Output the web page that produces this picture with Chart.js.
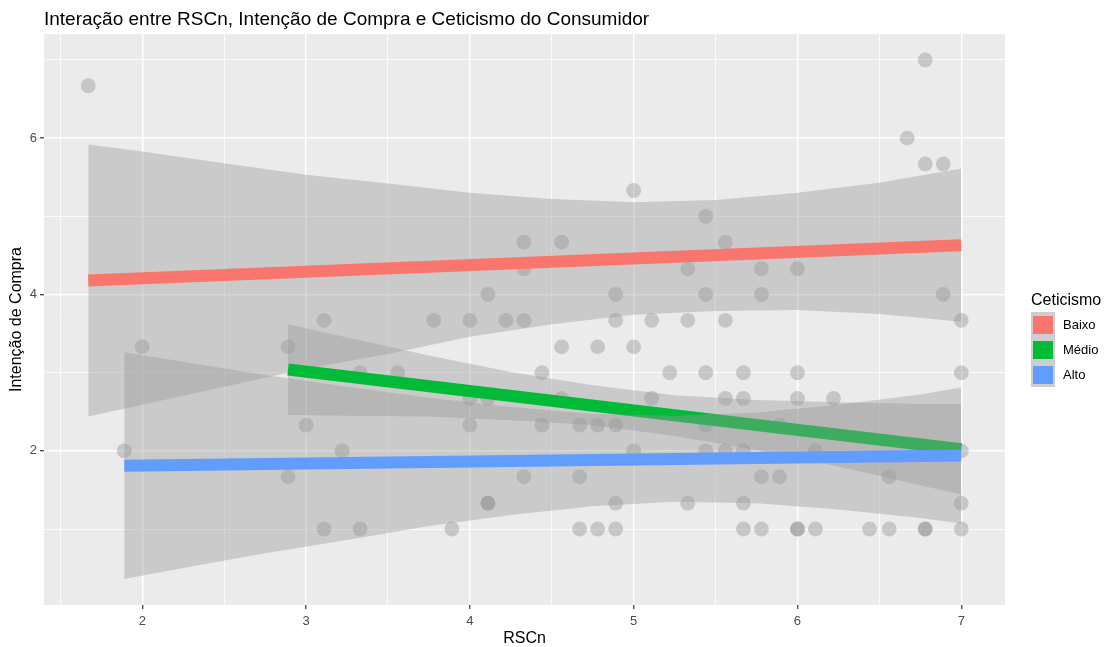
<!DOCTYPE html>
<html>
<head>
<meta charset="utf-8">
<script src="https://cdn.jsdelivr.net/npm/chart.js@4"></script>
<style>
    body { margin: 0; background: #fff; }
    #chart { display: block; }
</style>
</head>
<body>
<canvas id="chart" width="1107" height="647"></canvas>
<script>
const titleText = 'Interação entre RSCn, Intenção de Compra e Ceticismo do Consumidor';
const xTitle = 'RSCn';
const yTitle = 'Intenção de Compra';
const legendTitle = 'Ceticismo';
const groupNames = ['Baixo', 'Médio', 'Alto'];
const groupColors = ['#F8766D', '#00BA38', '#619CFF'];

const xMajor = [2, 3, 4, 5, 6, 7];
const xMinor = [1.5, 2.5, 3.5, 4.5, 5.5, 6.5];
const yMajor = [2, 4, 6];
const yMinor = [1, 3, 5, 7];

// observações (RSCn, Intenção de Compra)
const rscn = [1.67, 1.89, 2, 2.89, 2.89, 3, 3.11, 3.11, 3.22, 3.33, 3.33, 3.56, 3.78, 3.89,
    4, 4, 4, 4.11, 4.11, 4.11, 4.11, 4.22, 4.33, 4.33, 4.33, 4.33, 4.44, 4.44, 4.56, 4.56, 4.56,
    4.67, 4.67, 4.67, 4.78, 4.78, 4.78, 4.89, 4.89, 4.89, 4.89, 4.89, 5, 5, 5, 5.11, 5.11, 5.22,
    5.33, 5.33, 5.33, 5.44, 5.44, 5.44, 5.44, 5.44, 5.56, 5.56, 5.56, 5.56, 5.67, 5.67, 5.67,
    5.67, 5.67, 5.78, 5.78, 5.78, 5.78, 5.89, 5.89, 6, 6, 6, 6, 6, 6.11, 6.11, 6.22, 6.44, 6.56,
    6.56, 6.67, 6.78, 6.78, 6.78, 6.78, 6.89, 6.89, 7, 7, 7, 7, 7];
const intencao = [6.67, 2, 3.33, 3.33, 1.67, 2.33, 3.67, 1, 2, 3, 1, 3, 3.67, 1,
    3.67, 2.67, 2.33, 4, 2.67, 1.33, 1.33, 3.67, 4.67, 4.33, 3.67, 1.67, 3, 2.33, 4.67, 3.33, 2.67,
    2.33, 1.67, 1, 3.33, 2.33, 1, 4, 3.67, 2.33, 1.33, 1, 5.33, 3.33, 2, 3.67, 2.67, 3,
    4.33, 3.67, 1.33, 5, 4, 3, 2.33, 2, 4.67, 3.67, 2.67, 2, 3, 2.67, 2,
    1.33, 1, 4.33, 4, 1.67, 1, 2.33, 1.67, 4.33, 3, 2.67, 1, 1, 2, 1, 2.67, 1, 1.67,
    1, 6, 7, 5.67, 1, 1, 5.67, 4, 3.67, 3, 2, 1.33, 1];

// retas ajustadas por grupo
const baixoLineX = [1.67, 7];
const baixoLineY = [4.18, 4.63];
const medioLineX = [2.89, 7];
const medioLineY = [3.04, 2.02];
const altoLineX = [1.89, 7];
const altoLineY = [1.81, 1.94];

// intervalos de confiança
const baixoBandX = [1.67, 2, 2.5, 3, 3.5, 4, 4.5, 5, 5.5, 6, 6.5, 7];
const baixoUpper = [5.92, 5.83, 5.68, 5.53, 5.42, 5.30, 5.22, 5.18, 5.21, 5.30, 5.43, 5.61];
const baixoLower = [2.44, 2.59, 2.82, 3.05, 3.24, 3.46, 3.62, 3.74, 3.79, 3.80, 3.75, 3.65];

const medioBandX = [2.89, 3.25, 3.75, 4.25, 4.75, 5.25, 5.75, 6.25, 6.75, 7];
const medioUpper = [3.62, 3.45, 3.22, 3.01, 2.84, 2.71, 2.65, 2.62, 2.60, 2.60];
const medioLower = [2.46, 2.45, 2.44, 2.39, 2.33, 2.19, 2.01, 1.80, 1.56, 1.44];

const altoBandX = [1.89, 2.25, 2.75, 3.25, 3.75, 4.25, 4.75, 5.25, 5.75, 6.25, 6.75, 7];
const altoUpper = [3.26, 3.14, 2.97, 2.82, 2.68, 2.56, 2.47, 2.45, 2.49, 2.59, 2.72, 2.81];
const altoLower = [0.36, 0.50, 0.69, 0.86, 1.04, 1.18, 1.29, 1.35, 1.33, 1.25, 1.14, 1.07];

const FONT = "'Liberation Sans', Arial, sans-serif";
const ribbon = 'rgba(153,153,153,0.4)';

const toXY = (xs, ys) => xs.map((x, i) => ({x: x, y: ys[i]}));

const bandDatasets = (xs, lower, upper, order) => [
    {
        type: 'line', data: toXY(xs, lower), order: order,
        borderColor: 'rgba(0,0,0,0)', borderWidth: 0, pointRadius: 0, fill: false
    },
    {
        type: 'line', data: toXY(xs, upper), order: order - 1,
        borderColor: 'rgba(0,0,0,0)', borderWidth: 0, pointRadius: 0,
        fill: '-1', backgroundColor: ribbon
    }
];

const lineDataset = (xs, ys, color, order) => ({
    type: 'line', data: toXY(xs, ys), order: order,
    borderColor: color, borderWidth: 12, borderCapStyle: 'butt',
    pointRadius: 0, fill: false, tension: 0
});

const ggDecor = {
    id: 'ggDecor',
    beforeDraw(chart) {
        const {ctx, chartArea: a} = chart;
        ctx.save();
        ctx.fillStyle = '#fff';
        ctx.fillRect(0, 0, chart.width, chart.height);
        ctx.fillStyle = '#EBEBEB';
        ctx.fillRect(a.left, a.top, a.right - a.left, a.bottom - a.top);
        ctx.restore();
    },
    afterDraw(chart) {
        const {ctx, chartArea: a} = chart;
        ctx.save();
        ctx.fillStyle = '#000';
        ctx.textBaseline = 'alphabetic';
        ctx.font = '19px ' + FONT;
        ctx.fillText(titleText, a.left, 25);

        ctx.font = '16px ' + FONT;
        ctx.fillText(legendTitle, 1031, 305);

        ctx.font = '13px ' + FONT;
        ctx.textBaseline = 'middle';
        groupNames.forEach((name, i) => {
            const top = 312 + 25 * i;
            ctx.fillStyle = '#CECECE';
            ctx.fillRect(1031, top, 24, 25);
            ctx.fillStyle = groupColors[i];
            ctx.fillRect(1033, top + 4, 20, 18);
            ctx.fillStyle = '#000';
            ctx.fillText(name, 1063, top + 13);
        });
        ctx.restore();
    }
};

const tickFont = {family: FONT, size: 13};
const titleFont = {family: FONT, size: 16, lineHeight: 1};

new Chart(document.getElementById('chart'), {
    type: 'scatter',
    data: {
        datasets: [
            {
                data: toXY(rscn, intencao), order: 20,
                backgroundColor: 'rgba(128,128,128,0.35)', borderWidth: 0,
                pointRadius: 7.4, pointHoverRadius: 7.4
            },
            ...bandDatasets(baixoBandX, baixoLower, baixoUpper, 19),
            lineDataset(baixoLineX, baixoLineY, groupColors[0], 17),
            ...bandDatasets(medioBandX, medioLower, medioUpper, 16),
            lineDataset(medioLineX, medioLineY, groupColors[1], 14),
            ...bandDatasets(altoBandX, altoLower, altoUpper, 13),
            lineDataset(altoLineX, altoLineY, groupColors[2], 11)
        ]
    },
    options: {
        responsive: false,
        animation: false,
        events: [],
        devicePixelRatio: 1,
        layout: {padding: {top: 34, right: 102, left: 0, bottom: 0}},
        plugins: {
            legend: {display: false},
            tooltip: {enabled: false},
            title: {display: false}
        },
        scales: {
            x: {
                type: 'linear',
                min: 1.4,
                max: 7.267,
                afterBuildTicks: scale => {
                    scale.ticks = xMinor.concat(xMajor).sort((p, q) => p - q).map(v => ({value: v}));
                },
                afterFit: scale => { scale.height = 42; },
                border: {display: false},
                grid: {
                    color: '#fff',
                    lineWidth: ctx => xMajor.includes(ctx.tick.value) ? 1.5 : 0.8,
                    tickColor: ctx => xMajor.includes(ctx.tick.value) ? '#333333' : 'rgba(0,0,0,0)',
                    tickLength: 4,
                    tickWidth: 1.2
                },
                ticks: {
                    autoSkip: false,
                    maxRotation: 0,
                    padding: 5,
                    color: '#4D4D4D',
                    font: tickFont,
                    callback: v => xMajor.includes(v) ? String(v) : ''
                },
                title: {display: true, text: xTitle, color: '#000', font: titleFont, padding: {top: 0, bottom: 0}}
            },
            y: {
                type: 'linear',
                min: 0.028,
                max: 7.332,
                afterBuildTicks: scale => {
                    scale.ticks = yMinor.concat(yMajor).sort((p, q) => p - q).map(v => ({value: v}));
                },
                afterFit: scale => { scale.width = 44; },
                border: {display: false},
                grid: {
                    color: '#fff',
                    lineWidth: ctx => yMajor.includes(ctx.tick.value) ? 1.5 : 0.8,
                    tickColor: ctx => yMajor.includes(ctx.tick.value) ? '#333333' : 'rgba(0,0,0,0)',
                    tickLength: 4,
                    tickWidth: 1.2
                },
                ticks: {
                    autoSkip: false,
                    padding: 3,
                    color: '#4D4D4D',
                    font: tickFont,
                    callback: v => yMajor.includes(v) ? String(v) : ''
                },
                title: {display: true, text: yTitle, color: '#000', font: titleFont, padding: {top: 9, bottom: 0}}
            }
        }
    },
    plugins: [ggDecor]
});
</script>
</body>
</html>
